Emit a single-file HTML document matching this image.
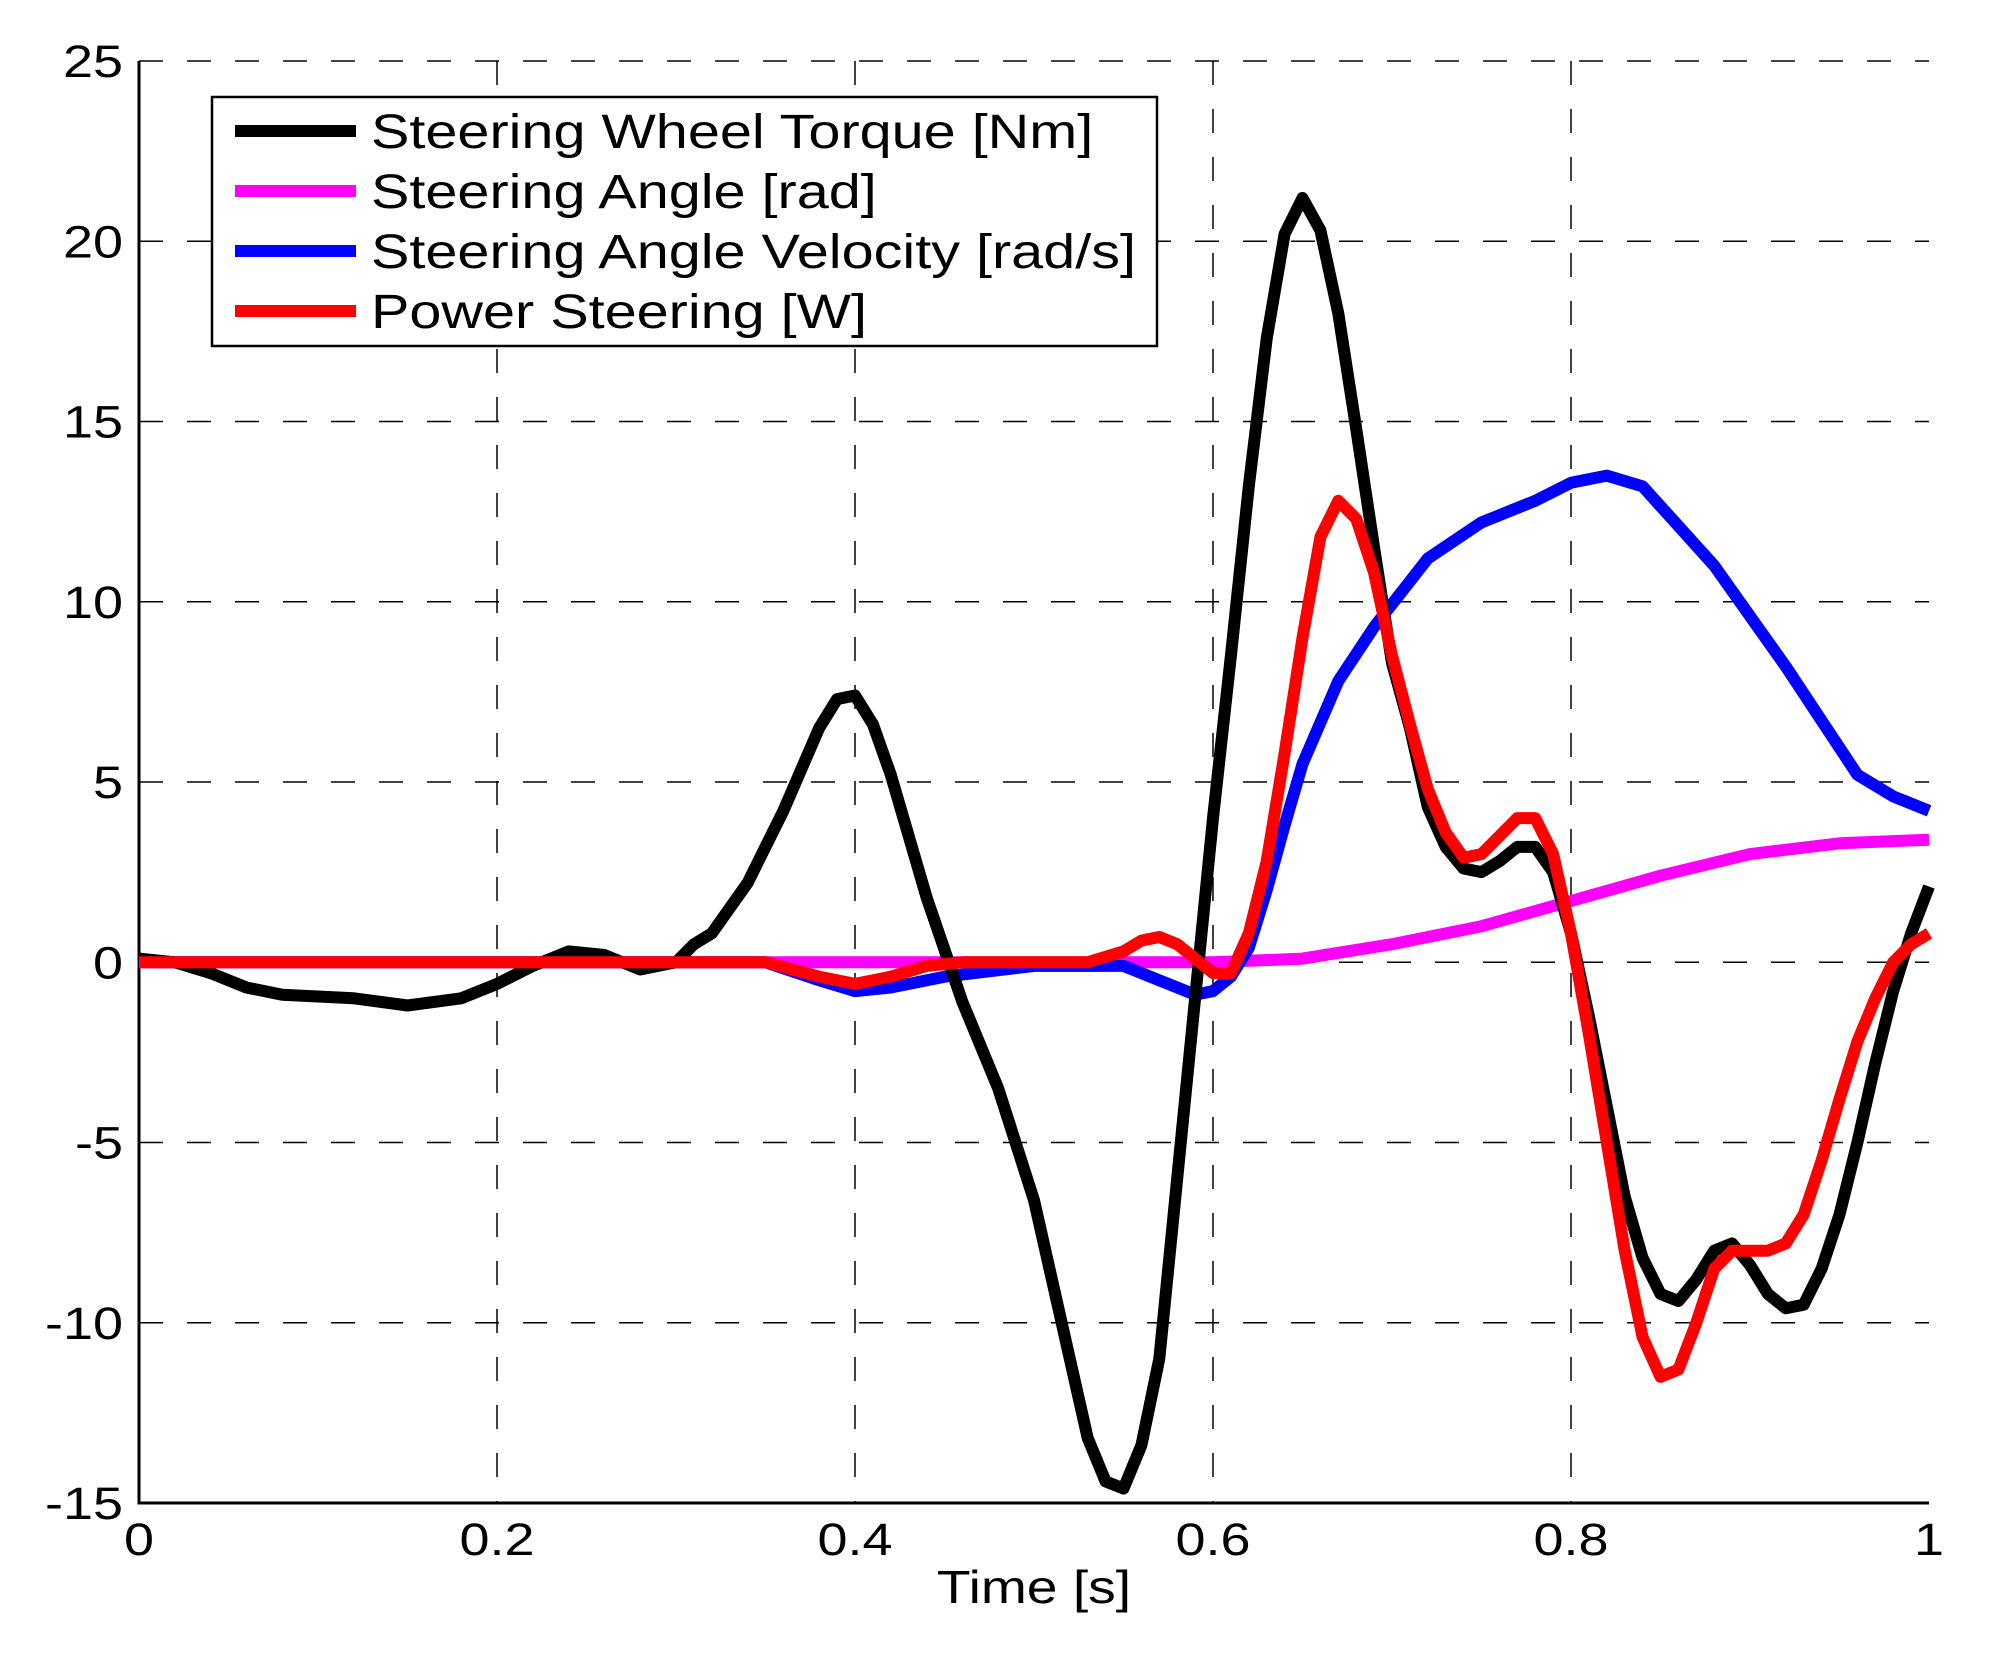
<!DOCTYPE html>
<html><head><meta charset="utf-8"><style>
html,body{margin:0;padding:0;background:#fff}
svg{display:block;font-family:"Liberation Sans",sans-serif}
</style></head><body>
<svg id="chart" width="1992" height="1653" viewBox="0 0 1992 1653">
<rect width="1992" height="1653" fill="#fff"/>
<g id="grid"></g>
<g id="axes"></g>
<g id="series"></g>
<text transform="translate(1034,1603) scale(1.2,1)" font-size="46" text-anchor="middle">Time [s]</text>
<g>
<rect x="212" y="97" width="945" height="249" fill="#fff" stroke="#000" stroke-width="2.5"/>
<g><line x1="235" y1="131" x2="356" y2="131" stroke="#000" stroke-width="12"/><text transform="translate(371,148) scale(1.2,1)" font-size="48">Steering Wheel Torque [Nm]</text></g>
<g><line x1="235" y1="191" x2="356" y2="191" stroke="#ff00ff" stroke-width="12"/><text transform="translate(371,208) scale(1.2,1)" font-size="48">Steering Angle [rad]</text></g>
<g><line x1="235" y1="251" x2="356" y2="251" stroke="#0000ff" stroke-width="12"/><text transform="translate(371,268) scale(1.2,1)" font-size="48">Steering Angle Velocity [rad/s]</text></g>
<g><line x1="235" y1="311" x2="356" y2="311" stroke="#ff0000" stroke-width="12"/><text transform="translate(371,328) scale(1.2,1)" font-size="48">Power Steering [W]</text></g>
</g>
</svg>
<script>
const xTicks=[0,0.2,0.4,0.6,0.8,1];
const xTickLabels=["0","0.2","0.4","0.6","0.8","1"];
const yTicks=[-15,-10,-5,0,5,10,15,20,25];
const yTickLabels=["-15","-10","-5","0","5","10","15","20","25"];
const torqueT=[0,0.02,0.04,0.06,0.08,0.1,0.12,0.15,0.18,0.2,0.22,0.24,0.26,0.28,0.3,0.31,0.32,0.34,0.36,0.38,0.39,0.4,0.41,0.42,0.44,0.46,0.48,0.5,0.52,0.53,0.54,0.55,0.56,0.57,0.58,0.59,0.6,0.61,0.62,0.63,0.64,0.65,0.66,0.67,0.68,0.69,0.7,0.71,0.72,0.73,0.74,0.75,0.76,0.77,0.78,0.79,0.8,0.81,0.82,0.83,0.84,0.85,0.86,0.87,0.88,0.89,0.9,0.91,0.92,0.93,0.94,0.95,0.96,0.97,0.98,0.99,1];
const torqueV=[0.1,0,-0.3,-0.7,-0.9,-0.95,-1.0,-1.2,-1.0,-0.6,-0.1,0.3,0.2,-0.2,0,0.5,0.8,2.2,4.2,6.5,7.3,7.4,6.6,5.2,1.8,-1.1,-3.5,-6.6,-11,-13.2,-14.4,-14.6,-13.4,-11,-6,-1,4,8.5,13.2,17.3,20.2,21.2,20.3,18,14.8,11.5,8.3,6.5,4.3,3.2,2.6,2.5,2.8,3.2,3.2,2.5,0.8,-1.5,-4,-6.5,-8.2,-9.2,-9.4,-8.8,-8,-7.8,-8.4,-9.2,-9.6,-9.5,-8.5,-7,-5,-2.8,-0.8,0.8,2.1];
const angleT=[0,0.6,0.65,0.7,0.72,0.75,0.8,0.85,0.9,0.95,1];
const angleV=[0,0,0.1,0.5,0.7,1.0,1.7,2.4,3.0,3.3,3.4];
const velT=[0,0.01,0.35,0.38,0.4,0.42,0.45,0.5,0.55,0.57,0.59,0.6,0.61,0.62,0.63,0.64,0.65,0.67,0.69,0.72,0.75,0.78,0.8,0.82,0.84,0.86,0.88,0.9,0.92,0.94,0.96,0.98,1];
const velV=[0.1,0,0,-0.5,-0.8,-0.7,-0.4,-0.1,-0.1,-0.5,-0.9,-0.8,-0.4,0.4,2,3.8,5.5,7.8,9.3,11.2,12.2,12.8,13.3,13.5,13.2,12.1,11,9.6,8.2,6.7,5.2,4.6,4.2];
const powT=[0,0.35,0.38,0.4,0.42,0.44,0.46,0.53,0.55,0.56,0.57,0.58,0.59,0.6,0.61,0.62,0.63,0.64,0.65,0.66,0.67,0.68,0.69,0.7,0.71,0.72,0.73,0.74,0.75,0.76,0.77,0.78,0.79,0.8,0.81,0.82,0.83,0.84,0.85,0.86,0.87,0.88,0.89,0.9,0.91,0.92,0.93,0.94,0.95,0.96,0.97,0.98,0.99,1];
const powV=[0,0,-0.4,-0.6,-0.4,-0.1,0,0,0.3,0.6,0.7,0.5,0.1,-0.3,-0.3,0.8,2.8,5.8,9,11.8,12.8,12.3,10.8,8.5,6.6,4.8,3.6,2.9,3.0,3.5,4.0,4.0,3.0,0.8,-2,-5,-8,-10.4,-11.5,-11.3,-10,-8.5,-8,-8,-8,-7.8,-7,-5.5,-3.8,-2.2,-1,0,0.5,0.8];

const L=139,R=1929,T=61,B=1503;
const sx=v=>L+(v-0)/(1-0)*(R-L);
const sy=v=>B-(v+15)/40*(B-T);
const NS="http://www.w3.org/2000/svg";
function mk(tag,attrs,parent){const e=document.createElementNS(NS,tag);for(const k in attrs)e.setAttribute(k,attrs[k]);parent.appendChild(e);return e;}
const grid=document.getElementById('grid'),axes=document.getElementById('axes'),series=document.getElementById('series');
xTicks.forEach((t,i)=>{
  if(i>0&&i<xTicks.length-1){const g=mk('line',{x1:sx(t),x2:sx(t),y1:T,y2:B,stroke:'#000','stroke-width':1.5,'stroke-dasharray':'24,24'},grid);
  
  }
  const tx=mk('text',{transform:`translate(${sx(t)},${B+52}) scale(1.2,1)`,'font-size':45,'text-anchor':'middle'},axes);tx.textContent=xTickLabels[i];
  
  
});
yTicks.forEach((v,i)=>{
  if(i>0){const g=mk('line',{x1:L,x2:R,y1:sy(v),y2:sy(v),stroke:'#000','stroke-width':1.5,'stroke-dasharray':'24,24'},grid);
  
  }
  const tx=mk('text',{transform:`translate(${L-16},${sy(v)+16}) scale(1.2,1)`,'font-size':45,'text-anchor':'end'},axes);tx.textContent=yTickLabels[i];
  
  
});
const ax=mk('path',{d:`M${L},${T}L${L},${B}L${R},${B}`,fill:'none',stroke:'#000','stroke-width':3},axes);


function line(ts,vs,color,name){
  const d=ts.map((t,i)=>(i?'L':'M')+sx(t).toFixed(1)+','+sy(vs[i]).toFixed(1)).join('');
  const p=mk('path',{d:d,fill:'none',stroke:color,'stroke-width':12,'stroke-linejoin':'round'},series);
  
  
}
line(angleT,angleV,'#ff00ff','steering-angle-line');
line(velT,velV,'#0000ff','steering-velocity-line');
line(torqueT,torqueV,'#000000','steering-torque-line');
line(powT,powV,'#ff0000','power-steering-line');
</script>
</body></html>
